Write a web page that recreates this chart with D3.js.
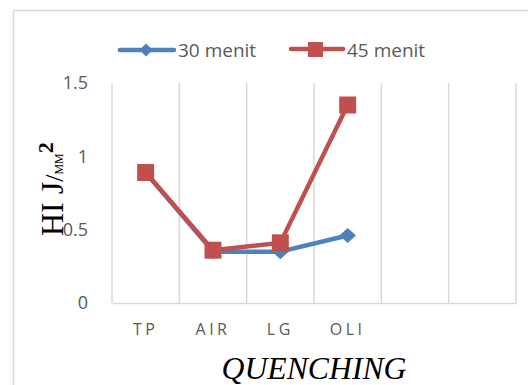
<!DOCTYPE html>
<html>
<head>
<meta charset="utf-8">
<script src="https://cdn.jsdelivr.net/npm/d3@7"></script>
<style>
  body { margin: 0; background: #fff; }
</style>
</head>
<body>
<div id="chart-area"></div>
<script>
// Data
var categories = ["TP", "AIR", "LG", "OLI", "", " "];
var series30 = [0.89, 0.35, 0.35, 0.46];
var series45 = [0.89, 0.36, 0.41, 1.35];
var yTicks = [0, 0.5, 1, 1.5];
var seriesNames = ["30 menit", "45 menit"];

var W = 528, H = 385;
var margin = { top: 83, left: 112, right: 12, bottom: 82 };
var width = W - margin.left - margin.right;
var height = H - margin.top - margin.bottom;

var blue = "#4F81BD", red = "#C0504D", grid = "#d9d9d9", txt = "#595959";

var svg = d3.select("#chart-area").append("svg")
    .attr("width", W)
    .attr("height", H);

// chart border
svg.append("path")
  .attr("d", "M13.5," + H + "V10.5H" + (W + 5))
  .attr("fill", "none")
  .attr("stroke", grid)
  .attr("stroke-width", 1.5);

var g = svg.append("g")
  .attr("transform", "translate(" + margin.left + "," + margin.top + ")");

// Scales
var x = d3.scaleBand()
  .domain(categories)
  .range([0, width]);

var y = d3.scaleLinear()
  .domain([0, 1.5])
  .range([height, 0]);

// vertical gridlines
var edges = categories.map(function(c) { return x(c); }).concat([width]);
g.selectAll(".vgrid")
  .data(edges)
  .enter().append("line")
    .attr("class", "vgrid")
    .attr("x1", function(d) { return d; })
    .attr("x2", function(d) { return d; })
    .attr("y1", 0)
    .attr("y2", height)
    .attr("stroke", grid)
    .attr("stroke-width", 1.5);

// x axis
var xAxis = g.append("g")
  .attr("transform", "translate(0," + height + ")")
  .call(d3.axisBottom(x).tickSize(0).tickPadding(21));
xAxis.select(".domain").attr("stroke", grid).attr("stroke-width", 1.5);
xAxis.selectAll("text")
  .attr("font-family", "Open Sans")
  .attr("font-size", "16px")
  .attr("fill", txt)
  .attr("letter-spacing", "3.5px")
  .attr("dx", "0px");

// y axis
var yAxis = g.append("g")
  .call(d3.axisLeft(y).tickValues(yTicks).tickSize(0).tickPadding(24)
    .tickFormat(function(d) { return d; }));
yAxis.select(".domain").remove();
yAxis.selectAll("text")
  .attr("font-family", "Open Sans")
  .attr("font-size", "18px")
  .attr("fill", txt);

// lines
var line = d3.line()
  .x(function(d, i) { return x(categories[i]) + x.bandwidth() / 2; })
  .y(function(d) { return y(d); });

g.append("path")
  .datum(series30)
  .attr("d", line)
  .attr("fill", "none")
  .attr("stroke", blue)
  .attr("stroke-width", 4.5)
  .attr("stroke-linejoin", "round");

g.selectAll(".dia")
  .data(series30)
  .enter().append("path")
    .attr("class", "dia")
    .attr("d", d3.symbol().type(d3.symbolDiamond2).size(160))
    .attr("transform", function(d, i) {
      return "translate(" + (x(categories[i]) + x.bandwidth() / 2) + "," + y(d) + ") scale(1.05,0.95)";
    })
    .attr("fill", blue);

g.append("path")
  .datum(series45)
  .attr("d", line)
  .attr("fill", "none")
  .attr("stroke", red)
  .attr("stroke-width", 4.5)
  .attr("stroke-linejoin", "round");

g.selectAll(".sq")
  .data(series45)
  .enter().append("rect")
    .attr("class", "sq")
    .attr("x", function(d, i) { return x(categories[i]) + x.bandwidth() / 2 - 8.5; })
    .attr("y", function(d) { return y(d) - 8.5; })
    .attr("width", 17)
    .attr("height", 17)
    .attr("fill", red);

// legend
var leg = svg.append("g");
leg.append("line")
  .attr("x1", 120).attr("x2", 174).attr("y1", 50).attr("y2", 50)
  .attr("stroke", blue).attr("stroke-width", 4.5).attr("stroke-linecap", "round");
leg.append("path")
  .attr("d", d3.symbol().type(d3.symbolDiamond2).size(110))
  .attr("transform", "translate(146,50)")
  .attr("fill", blue);
leg.append("text")
  .attr("x", 178).attr("y", 57)
  .attr("font-family", "Open Sans").attr("font-size", "19px").attr("fill", txt)
  .text(seriesNames[0]);

leg.append("line")
  .attr("x1", 291).attr("x2", 343).attr("y1", 49).attr("y2", 49)
  .attr("stroke", red).attr("stroke-width", 4.5).attr("stroke-linecap", "round");
leg.append("rect")
  .attr("x", 308).attr("y", 42).attr("width", 15).attr("height", 15)
  .attr("fill", red);
leg.append("text")
  .attr("x", 347).attr("y", 57)
  .attr("font-family", "Open Sans").attr("font-size", "19px").attr("fill", txt)
  .text(seriesNames[1]);

// x title
svg.append("text")
  .attr("x", 314)
  .attr("y", 379)
  .attr("text-anchor", "middle")
  .attr("font-family", "Liberation Serif")
  .attr("font-style", "italic")
  .attr("font-size", "32px")
  .attr("textLength", 185)
  .attr("lengthAdjust", "spacingAndGlyphs")
  .text("QUENCHING");

// y title
var yt = svg.append("text")
  .attr("transform", "translate(63,236) rotate(-90)")
  .attr("font-family", "Liberation Serif")
  .attr("fill", "#000");
yt.append("tspan").attr("font-size", "32px").text("HI J");
yt.append("tspan").attr("font-size", "26px").text("/");
yt.append("tspan").attr("font-size", "12px").text("MM");
yt.append("tspan").attr("font-size", "22px").attr("font-weight", "bold").attr("dy", "-10").text("2");
</script>
</body>
</html>
